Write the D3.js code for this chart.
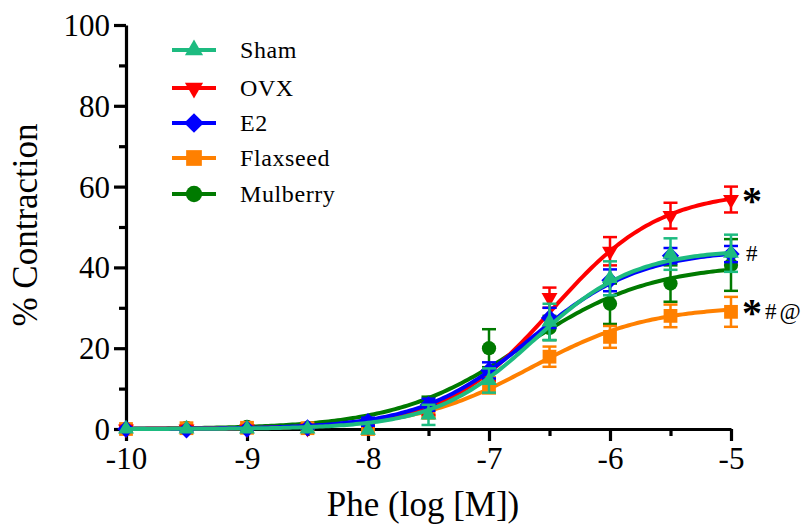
<!DOCTYPE html>
<html><head><meta charset="utf-8">
<script src="https://cdn.jsdelivr.net/npm/d3@7"></script>
<style>
html,body{margin:0;padding:0;background:#fff;}
svg{display:block;font-family:"Liberation Serif","Times New Roman",serif;}
</style></head>
<body>
<svg id="chart" width="804" height="524"></svg>
<script>
// ---- data ----
const logConc = [-10, -9.5, -9, -8.5, -8, -7.5, -7, -6.5, -6, -5.5, -5];
const groups = ["Sham", "OVX", "E2", "Flaxseed", "Mulberry"];
const shamMean = [0, 0, 0, 0, -0.3, 3.5, 12, 26.5, 37.3, 43.3, 43.5];
const shamSEM  = [0.3, 0.3, 0.3, 0.3, 0.6, 2.5, 3, 4.5, 4.2, 3.9, 4.6];
const ovxMean  = [0, 0, 0, 0.2, 0.5, 4.5, 13.5, 32.5, 44, 52.8, 56.8];
const ovxSEM   = [0.2, 0.2, 0.2, 0.3, 0.5, 1, 1.5, 2.5, 3.5, 3.2, 3.2];
const e2Mean   = [0, -0.2, 0, 0.3, 1.8, 6, 14.5, 27.5, 36.8, 42.9, 43.3];
const e2SEM    = [0.2, 0.2, 0.2, 0.3, 1, 1.5, 2, 2.5, 2.7, 1.9, 2];
const flaxMean = [0, 0.2, 0.3, 0.2, 0, 4, 10.8, 17.9, 22.8, 28, 29];
const flaxSEM  = [0.2, 0.2, 0.2, 0.2, 0.5, 1, 2, 2.5, 2.7, 2.8, 3.7];
const mulbMean = [0, 0.3, 0.5, 0.2, 1.5, 6.5, 20, 25, 31, 36, 40.6];
const mulbSEM  = [0.2, 0.2, 0.3, 0.3, 1, 1.5, 4.7, 3, 5, 4.5, 6.4];
// fitted sigmoid parameters (bottom = 0)
const fitTop     = [44.5, 59, 44.5, 30.5, 41];
const fitLogEC50 = [-6.62, -6.48, -6.66, -6.65, -6.72];
const fitHill    = [1.05, 0.976, 0.95, 0.9, 0.82];
const colors = ["#1DBB80", "#FF0000", "#0000FF", "#FF8000", "#007A00"];
const markers = ["triUp", "triDown", "diamond", "square", "circle"];
const annotations = [{text:"*", group:1}, {text:"#", group:2}, {text:"*#@", group:3}];
const yTicks = [0, 20, 40, 60, 80, 100];
const yMinor = [10, 30, 50, 70, 90];
const xTicks = [-10, -9, -8, -7, -6, -5];
const xMinor = [-9.5, -8.5, -7.5, -6.5, -5.5];

const means = [shamMean, ovxMean, e2Mean, flaxMean, mulbMean];
const sems = [shamSEM, ovxSEM, e2SEM, flaxSEM, mulbSEM];

// ---- layout ----
const svg = d3.select("#chart");
const x = d3.scaleLinear().domain([-10, -5]).range([126, 731]);
const y = d3.scaleLinear().domain([0, 100]).range([429, 25]);

function hill(i, xv){ return fitTop[i] / (1 + Math.pow(10, (fitLogEC50[i] - xv) * fitHill[i])); }

function markerPath(type, k){
  k = k || 1;
  switch(type){
    case "triUp": return d3.symbol(d3.symbolTriangle, 110 * k)();
    case "triDown": return d3.symbol(d3.symbolTriangle, 110 * k)();
    case "diamond": return d3.symbol(d3.symbolSquare, 150 * k)();
    case "square": return d3.symbol(d3.symbolSquare, 190 * k)();
    case "circle": return d3.symbol(d3.symbolCircle, 160 * k)();
  }
}
function markerRot(type){
  if (type === "triDown") return " rotate(180)";
  if (type === "diamond") return " rotate(45)";
  return "";
}

// axes
const yAxis = d3.axisLeft(y).tickValues(yTicks).tickSize(12).tickSizeOuter(0).tickPadding(4);
const gy = svg.append("g").attr("transform", "translate(126,0)").call(yAxis);
const yAxisMinor = d3.axisLeft(y).tickValues(yMinor).tickSize(7).tickFormat("").tickSizeOuter(0);
const gy2 = svg.append("g").attr("transform", "translate(126,0)").call(yAxisMinor);
gy2.select(".domain").remove();
const xAxis = d3.axisBottom(x).tickValues(xTicks).tickSize(12).tickSizeOuter(0).tickPadding(6).tickFormat(d => d);
const gx = svg.append("g").attr("transform", "translate(0,429)").call(xAxis);
const xAxisMinor = d3.axisBottom(x).tickValues(xMinor).tickSize(7).tickFormat("").tickSizeOuter(0);
const gx2 = svg.append("g").attr("transform", "translate(0,429)").call(xAxisMinor);
gx2.select(".domain").remove();
svg.selectAll(".domain").attr("stroke", "#000").attr("stroke-width", 3.2);
svg.selectAll(".tick line").attr("stroke", "#000").attr("stroke-width", 3.2);
svg.selectAll(".tick text").attr("font-family", "Liberation Serif, Times New Roman, serif")
  .attr("font-size", 31).attr("fill", "#000");
gx.selectAll(".tick text").text(d => d === 0 ? "0" : ("-" + Math.abs(d)));
gy.selectAll(".tick text").attr("dy", "0.34em");

// axis titles
svg.append("text").attr("x", 423).attr("y", 516).attr("text-anchor", "middle")
  .attr("font-size", 35).text("Phe (log [M])");
svg.append("text").attr("transform", "translate(37,225) rotate(-90)").attr("text-anchor", "middle")
  .attr("font-size", 35).text("% Contraction");

// curves
const curveX = d3.range(0, 201).map(k => -10 + k * 5 / 200);
const line = d3.line().x(d => x(d[0])).y(d => y(d[1]));
const drawOrder = [4, 3, 1, 2, 0];
drawOrder.forEach(i => {
  const g = svg.append("g");
  // error bars
  logConc.forEach((xv, j) => {
    const m = means[i][j], s = sems[i][j];
    if (s < 0.8) return;
    const cx = x(xv);
    g.append("line").attr("x1", cx).attr("x2", cx).attr("y1", y(m - s)).attr("y2", y(m + s))
      .attr("stroke", colors[i]).attr("stroke-width", 2.5);
    [m - s, m + s].forEach(v => {
      g.append("line").attr("x1", cx - 7).attr("x2", cx + 7).attr("y1", y(v)).attr("y2", y(v))
        .attr("stroke", colors[i]).attr("stroke-width", 2.5);
    });
  });
  g.append("path").attr("d", line(curveX.map(xv => [xv, hill(i, xv)])))
    .attr("fill", "none").attr("stroke", colors[i]).attr("stroke-width", 4);
  logConc.forEach((xv, j) => {
    g.append("path").attr("d", markerPath(markers[i]))
      .attr("transform", `translate(${x(xv)},${y(means[i][j])})${markerRot(markers[i])}`)
      .attr("fill", colors[i]);
  });
});

// annotations
annotations.forEach(a => {
  const i = a.group;
  const yy = y(means[i][10]);
  const t = svg.append("text").attr("x", 742).attr("y", yy).attr("font-size", 22);
  a.text.split("").forEach((ch, k) => {
    if (ch === "*") t.append("tspan").attr("font-size", 40).attr("font-weight", "bold").attr("baseline-shift", "-14px").text("*");
    else t.append("tspan").attr("font-size", 23).attr("dx", k === 0 ? 4 : 3).attr("baseline-shift", "-7px").text(ch);
  });
});

// legend
const legendY = [50, 88, 123, 158, 194];
groups.forEach((name, i) => {
  const ly = legendY[i];
  svg.append("line").attr("x1", 172).attr("x2", 216).attr("y1", ly).attr("y2", ly)
    .attr("stroke", colors[i]).attr("stroke-width", 4);
  svg.append("path").attr("d", markerPath(markers[i], 1.3))
    .attr("transform", `translate(194,${ly})${markerRot(markers[i])}`).attr("fill", colors[i]);
  svg.append("text").attr("x", 240).attr("y", ly + 8).attr("font-size", 24)
    .attr("letter-spacing", 0.6).text(name);
});
</script>
</body></html>
